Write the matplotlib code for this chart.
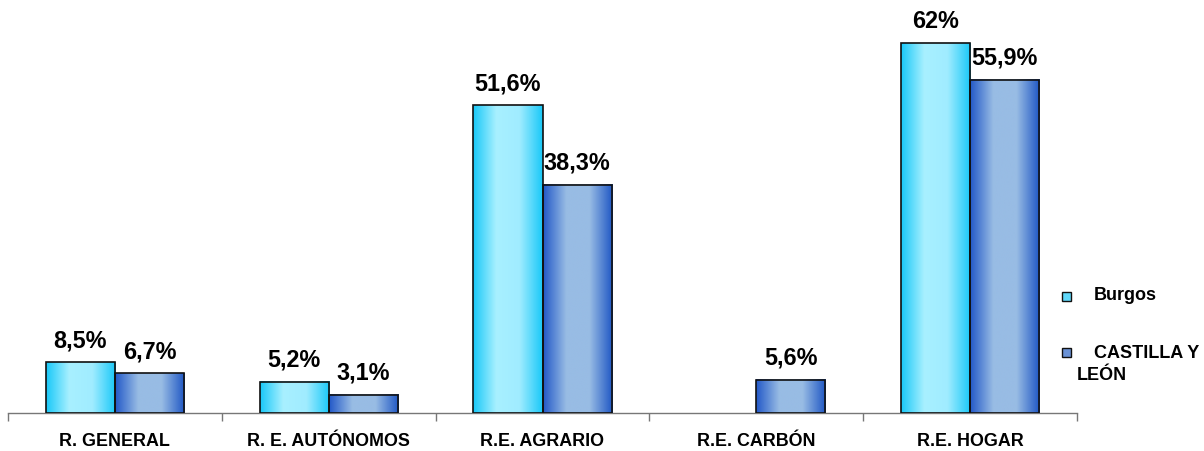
import numpy as np
import matplotlib
matplotlib.use("Agg")
import matplotlib.pyplot as plt
from matplotlib.colors import LinearSegmentedColormap
from matplotlib.patches import Rectangle

categories = ["R. GENERAL", "R. E. AUTÓNOMOS", "R.E. AGRARIO", "R.E. CARBÓN", "R.E. HOGAR"]
burgos = [8.5, 5.2, 51.6, None, 62.0]
cyl = [6.7, 3.1, 38.3, 5.6, 55.9]
burgos_labels = ["8,5%", "5,2%", "51,6%", "", "62%"]
cyl_labels = ["6,7%", "3,1%", "38,3%", "5,6%", "55,9%"]
series_names = ["Burgos", "CASTILLA Y LEÓN"]

plt.rcParams['font.family'] = ['Liberation Sans', 'DejaVu Sans']

fig = plt.figure(figsize=(12.04, 4.51), dpi=100)
W, H = 1204, 451
ax = fig.add_axes([8 / W, 38 / H, 1069 / W, 408 / H])
ymax = 68.4
ax.set_xlim(-0.5, len(categories) - 0.5)
ax.set_ylim(0, ymax)

cmap_b = LinearSegmentedColormap.from_list("b", ["#18c8f8", "#a8f0ff", "#a0ecff", "#18c8f8"])
cmap_c = LinearSegmentedColormap.from_list("c", ["#2258c8", "#98bce4", "#98bce4", "#1e56c4"])
grad = np.linspace(0, 1, 256).reshape(1, -1)
w = 0.323

def draw_bar(x0, h, cmap):
    ax.imshow(grad, cmap=cmap, aspect="auto", extent=(x0, x0 + w, 0, h),
              interpolation="bilinear", zorder=2)
    ax.add_patch(Rectangle((x0, 0), w, h, facecolor="none", edgecolor="#111111",
                           linewidth=1.2, zorder=3))

for i in range(len(categories)):
    if burgos[i] is not None:
        draw_bar(i - w, burgos[i], cmap_b)
        ax.annotate(burgos_labels[i], xy=(i - w / 2, burgos[i]), xytext=(0, 15),
                    textcoords="offset pixels", ha="center", va="baseline",
                    fontsize=16.8, fontweight="bold")
    draw_bar(i, cyl[i], cmap_c)
    ax.annotate(cyl_labels[i], xy=(i + w / 2, cyl[i]), xytext=(0, 15),
                textcoords="offset pixels", ha="center", va="baseline",
                fontsize=16.8, fontweight="bold")
    ax.annotate(categories[i], xy=(i, 0), xytext=(0, -28), textcoords="offset pixels",
                ha="center", va="center", fontsize=12.9, fontweight="bold")

ax.set_xlim(-0.5, len(categories) - 0.5)
ax.set_ylim(0, ymax)
for s in ["top", "right", "left"]:
    ax.spines[s].set_visible(False)
ax.spines["bottom"].set_color("#777777")
ax.spines["bottom"].set_linewidth(1.0)
ax.set_yticks([])
ax.set_xticks(np.arange(-0.5, len(categories), 1.0))
ax.set_xticklabels([])
ax.tick_params(axis="x", direction="out", length=6, color="#777777", width=1.0)

# legend
def fig_y(py):
    return 1 - py / H

fig.patches.append(Rectangle((1062 / W, fig_y(301)), 9 / W, 9 / H, transform=fig.transFigure,
                             facecolor="#60d8fa", edgecolor="#111111", linewidth=1.0, figure=fig))
fig.patches.append(Rectangle((1062 / W, fig_y(357)), 9 / W, 9 / H, transform=fig.transFigure,
                             facecolor="#6a92d6", edgecolor="#111111", linewidth=1.0, figure=fig))
fig.text(1094 / W, fig_y(296), series_names[0], fontsize=13, fontweight="bold", va="center", ha="left")
fig.text(1094 / W, fig_y(353), "CASTILLA Y", fontsize=13, fontweight="bold", va="center", ha="left")
fig.text(1077 / W, fig_y(375), "LEÓN", fontsize=13, fontweight="bold", va="center", ha="left")

fig.savefig("out.png", dpi=100)
